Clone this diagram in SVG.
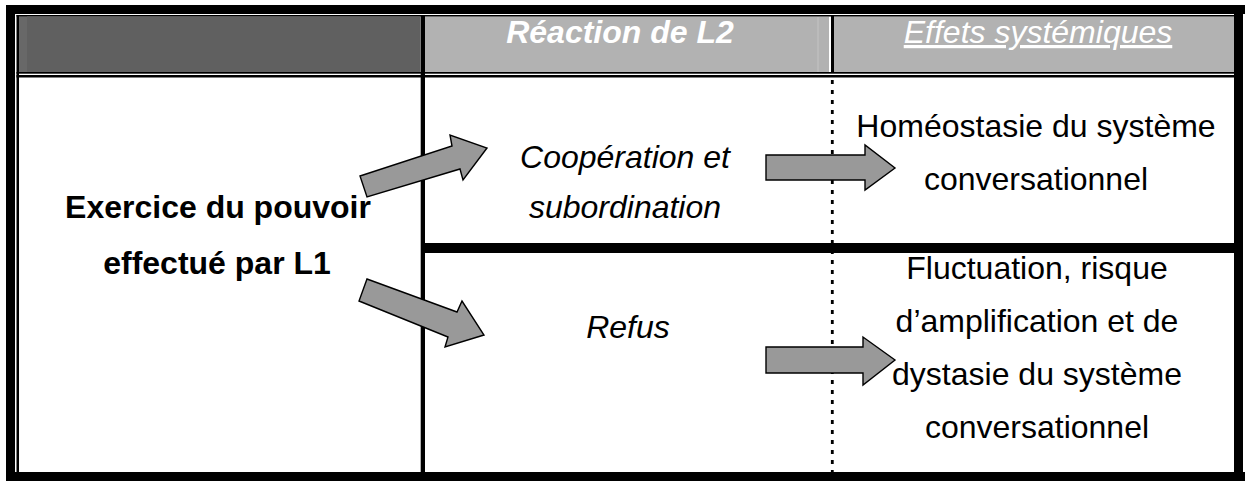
<svg xmlns="http://www.w3.org/2000/svg" width="1245" height="481" viewBox="0 0 1245 481">
<style>
.blk{fill:#000}
.t{font-family:"Liberation Sans",Arial,sans-serif;font-size:32px;fill:#000;text-anchor:middle}
.b{font-weight:bold}
.i{font-style:italic}
.h{fill:#fff}
.arrow{fill:#999;stroke:#000;stroke-width:1.4;stroke-linejoin:miter}
.dot{stroke:#000;stroke-width:2.8;stroke-dasharray:4 6;fill:none}
</style>
<rect width="1245" height="481" fill="#fff"/>
<g id="frame">
<rect x="18.5" y="16.5" width="402" height="55.5" fill="#606060"/>
<rect x="19" y="16.5" width="8" height="55.5" fill="#686868"/>
<rect x="425" y="16.5" width="810" height="55.5" fill="#b2b2b2"/>
<rect x="817.5" y="16.5" width="1" height="55.5" fill="#c4c4c4"/>
<rect x="829" y="16.5" width="2" height="55.5" fill="#fff"/>
<rect class="blk" x="831" y="16" width="3" height="56"/>
<rect class="blk" x="6" y="5" width="1239" height="9"/>
<rect class="blk" x="6" y="5" width="9" height="476"/>
<rect class="blk" x="16.5" y="15" width="2.5" height="466"/>
<rect class="blk" x="16.5" y="15" width="1218" height="1.5"/>
<rect class="blk" x="1234" y="14" width="9" height="467"/>
<rect class="blk" x="16.5" y="72" width="1218" height="1.7"/>
<rect class="blk" x="16.5" y="75" width="1218" height="2.5"/>
<rect class="blk" x="420.7" y="16" width="4.3" height="465"/>
<rect class="blk" x="425" y="243" width="809" height="10"/>
<rect class="blk" x="6" y="472" width="1239" height="9"/>
<line class="dot" x1="832.3" y1="80" x2="832.3" y2="472"/>
</g>
<g id="header">
<text class="t b i h" x="620" y="43">Réaction de L2</text>
<text class="t i h" x="1038" y="43" text-decoration="underline">Effets systémiques</text>
</g>
<g id="node-l1">
<text class="t b" x="218" y="218">Exercice du pouvoir</text>
<text class="t b" x="217" y="274">effectué par L1</text>
</g>
<g id="node-cooperation">
<text class="t i" x="625" y="168">Coopération et</text>
<text class="t i" x="625" y="218">subordination</text>
</g>
<g id="node-refus">
<text class="t i" x="628" y="338">Refus</text>
</g>
<g id="node-homeostasie">
<text class="t" x="1036" y="137">Homéostasie du système</text>
<text class="t" x="1036" y="190">conversationnel</text>
</g>
<g id="node-fluctuation">
<text class="t" x="1037" y="279">Fluctuation, risque</text>
<text class="t" x="1037" y="332">d’amplification et de</text>
<text class="t" x="1037" y="385">dystasie du système</text>
<text class="t" x="1037" y="438">conversationnel</text>
</g>
<g id="connectors">
<polygon class="arrow" points="360,176 452,146 450,135 487,148 463,180 460,169 367,197"/>
<polygon class="arrow" points="367,279 457,312 462,301 484,335 445,347 448,337 359,301"/>
<polygon class="arrow" points="766,155 865,155 865,145 895,168 865,190 865,180 766,180"/>
<polygon class="arrow" points="766,347 863,347 863,337 895,360 863,385 863,373 766,373"/>
</g>
</svg>
